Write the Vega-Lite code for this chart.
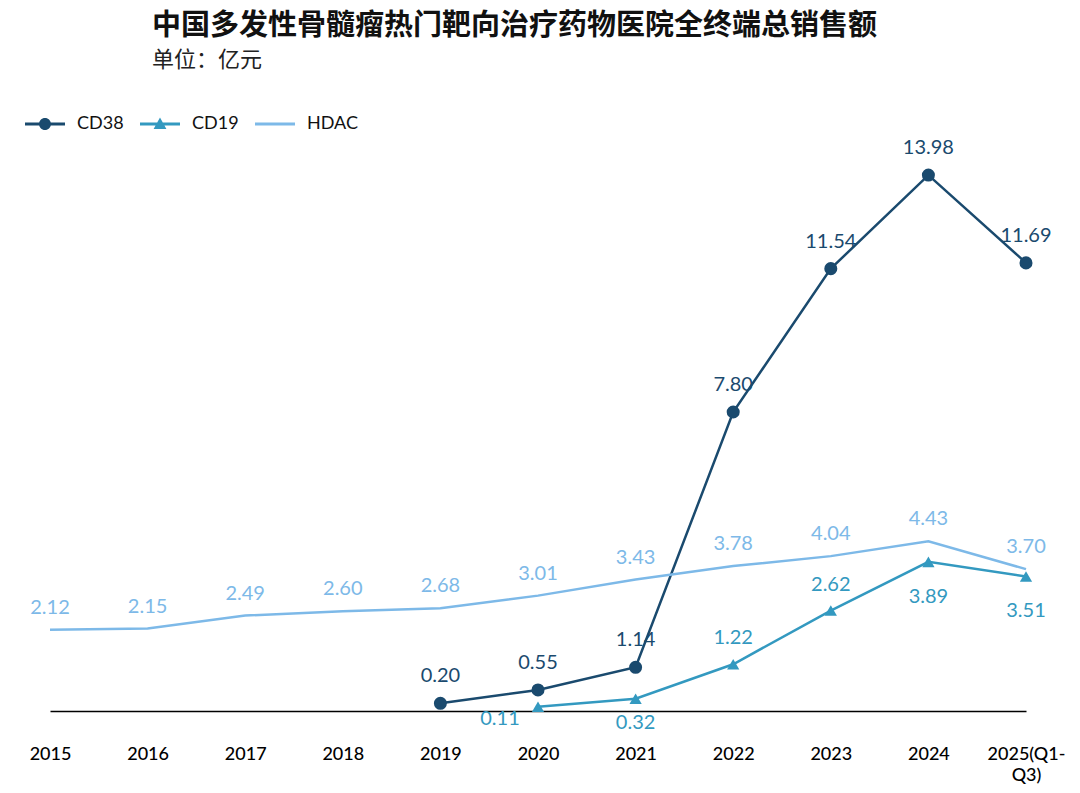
{
  "$schema": "https://vega.github.io/schema/vega-lite/v6.json",
  "width": 976,
  "height": 575,
  "autosize": {"type": "none"},
  "padding": {"left": 50, "top": 136, "right": 54, "bottom": 82},
  "background": "white",
  "config": {"view": {"stroke": null}},
  "title": {
    "text": "中国多发性骨髓瘤热门靶向治疗药物医院全终端总销售额",
    "subtitle": "单位：亿元",
    "anchor": "start",
    "frame": "group",
    "dx": 102,
    "offset": 33,
    "font": "Noto Sans CJK SC",
    "fontSize": 29,
    "fontWeight": "bold",
    "color": "#111",
    "subtitleFont": "Noto Sans CJK SC",
    "subtitleFontSize": 22,
    "subtitleColor": "#222",
    "subtitlePadding": 9
  },
  "data": {
    "values": [
      {"year": "2019", "series": "CD38", "value": 0.20},
      {"year": "2020", "series": "CD38", "value": 0.55},
      {"year": "2021", "series": "CD38", "value": 1.14},
      {"year": "2022", "series": "CD38", "value": 7.80},
      {"year": "2023", "series": "CD38", "value": 11.54},
      {"year": "2024", "series": "CD38", "value": 13.98},
      {"year": "2025(Q1-Q3)", "series": "CD38", "value": 11.69},
      {"year": "2020", "series": "CD19", "value": 0.11},
      {"year": "2021", "series": "CD19", "value": 0.32},
      {"year": "2022", "series": "CD19", "value": 1.22},
      {"year": "2023", "series": "CD19", "value": 2.62},
      {"year": "2024", "series": "CD19", "value": 3.89},
      {"year": "2025(Q1-Q3)", "series": "CD19", "value": 3.51},
      {"year": "2015", "series": "HDAC", "value": 2.12},
      {"year": "2016", "series": "HDAC", "value": 2.15},
      {"year": "2017", "series": "HDAC", "value": 2.49},
      {"year": "2018", "series": "HDAC", "value": 2.60},
      {"year": "2019", "series": "HDAC", "value": 2.68},
      {"year": "2020", "series": "HDAC", "value": 3.01},
      {"year": "2021", "series": "HDAC", "value": 3.43},
      {"year": "2022", "series": "HDAC", "value": 3.78},
      {"year": "2023", "series": "HDAC", "value": 4.04},
      {"year": "2024", "series": "HDAC", "value": 4.43},
      {"year": "2025(Q1-Q3)", "series": "HDAC", "value": 3.70}
    ]
  },
  "encoding": {
    "x": {
      "field": "year",
      "type": "ordinal",
      "sort": ["2015", "2016", "2017", "2018", "2019", "2020", "2021", "2022", "2023", "2024", "2025(Q1-Q3)"],
      "scale": {"type": "point", "padding": 0},
      "axis": {
        "title": null,
        "ticks": false,
        "grid": false,
        "domainColor": "#000",
        "domainWidth": 1.5,
        "labelAngle": 0,
        "labelPadding": 34,
        "labelFont": "Lato",
        "labelFontSize": 18,
        "labelFontWeight": 500,
        "labelColor": "#000",
        "labelLineHeight": 21,
        "labelExpr": "datum.label == '2025(Q1-Q3)' ? ['2025(Q1-', 'Q3)'] : datum.label"
      }
    },
    "y": {
      "field": "value",
      "type": "quantitative",
      "scale": {"domain": [0, 15], "nice": false},
      "axis": null
    }
  },
  "layer": [
    {
      "mark": {"type": "line", "strokeWidth": 2.5},
      "encoding": {
        "color": {
          "field": "series",
          "type": "nominal",
          "scale": {"domain": ["CD38", "CD19", "HDAC"], "range": ["#1a4a6e", "#3399c0", "#7db9e8"]}
        }
      }
    },
    {
      "transform": [{"filter": "datum.series == 'CD38'"}],
      "mark": {"type": "point", "shape": "circle", "filled": true, "size": 170, "opacity": 1, "color": "#1a4a6e"}
    },
    {
      "transform": [{"filter": "datum.series == 'CD19'"}],
      "mark": {"type": "point", "shape": "triangle-up", "filled": true, "size": 150, "opacity": 1, "color": "#3399c0"}
    },
    {
      "transform": [{"filter": "false"}],
      "mark": {"type": "point", "filled": true, "opacity": 1},
      "encoding": {
        "color": {
          "field": "series",
          "type": "nominal",
          "title": null,
          "legend": {
            "orient": "none",
            "legendX": -25,
            "legendY": -32,
            "direction": "horizontal",
            "title": null,
            "symbolSize": 1600,
            "symbolOpacity": 1,
            "symbolStrokeWidth": 0,
            "labelFont": "Lato",
            "labelFontSize": 18,
            "labelColor": "#111",
            "labelOffset": 12,
            "columnPadding": 16
          }
        },
        "shape": {
          "field": "series",
          "type": "nominal",
          "title": null,
          "scale": {
            "domain": ["CD38", "CD19", "HDAC"],
            "range": [
              "M-1,-0.07H1V0.07H-1Z M0.3,0A0.3,0.3,0,1,1,-0.3,0A0.3,0.3,0,1,1,0.3,0Z",
              "M-1,-0.07H1V0.07H-1Z M0,-0.33L0.32,0.25L-0.32,0.25Z",
              "M-1,-0.07H1V0.07H-1Z"
            ]
          }
        }
      }
    },
    {
      "transform": [{"filter": "datum.series == 'CD38'"}],
      "mark": {"type": "text", "font": "Lato", "fontSize": 20, "baseline": "middle", "dy": -27, "color": "#1a4a6e"},
      "encoding": {"text": {"field": "value", "type": "quantitative", "format": ".2f"}}
    },
    {
      "transform": [{"filter": "datum.series == 'CD19' && (datum.year == '2022' || datum.year == '2023')"}],
      "mark": {"type": "text", "font": "Lato", "fontSize": 20, "baseline": "middle", "dy": -26, "color": "#3399c0"},
      "encoding": {"text": {"field": "value", "type": "quantitative", "format": ".2f"}}
    },
    {
      "transform": [{"filter": "datum.series == 'CD19' && datum.year == '2021'"}],
      "mark": {"type": "text", "font": "Lato", "fontSize": 20, "baseline": "middle", "dy": 24, "color": "#3399c0"},
      "encoding": {"text": {"field": "value", "type": "quantitative", "format": ".2f"}}
    },
    {
      "transform": [{"filter": "datum.series == 'CD19' && (datum.year == '2024' || datum.year == '2025(Q1-Q3)')"}],
      "mark": {"type": "text", "font": "Lato", "fontSize": 20, "baseline": "middle", "dy": 35, "color": "#3399c0"},
      "encoding": {"text": {"field": "value", "type": "quantitative", "format": ".2f"}}
    },
    {
      "transform": [{"filter": "datum.series == 'CD19' && datum.year == '2020'"}],
      "mark": {"type": "text", "font": "Lato", "fontSize": 20, "baseline": "middle", "dx": -38, "dy": 12, "color": "#3399c0"},
      "encoding": {"text": {"field": "value", "type": "quantitative", "format": ".2f"}}
    },
    {
      "transform": [{"filter": "datum.series == 'HDAC'"}],
      "mark": {"type": "text", "font": "Lato", "fontSize": 20, "baseline": "middle", "dy": -22, "color": "#7db9e8"},
      "encoding": {"text": {"field": "value", "type": "quantitative", "format": ".2f"}}
    }
  ]
}
